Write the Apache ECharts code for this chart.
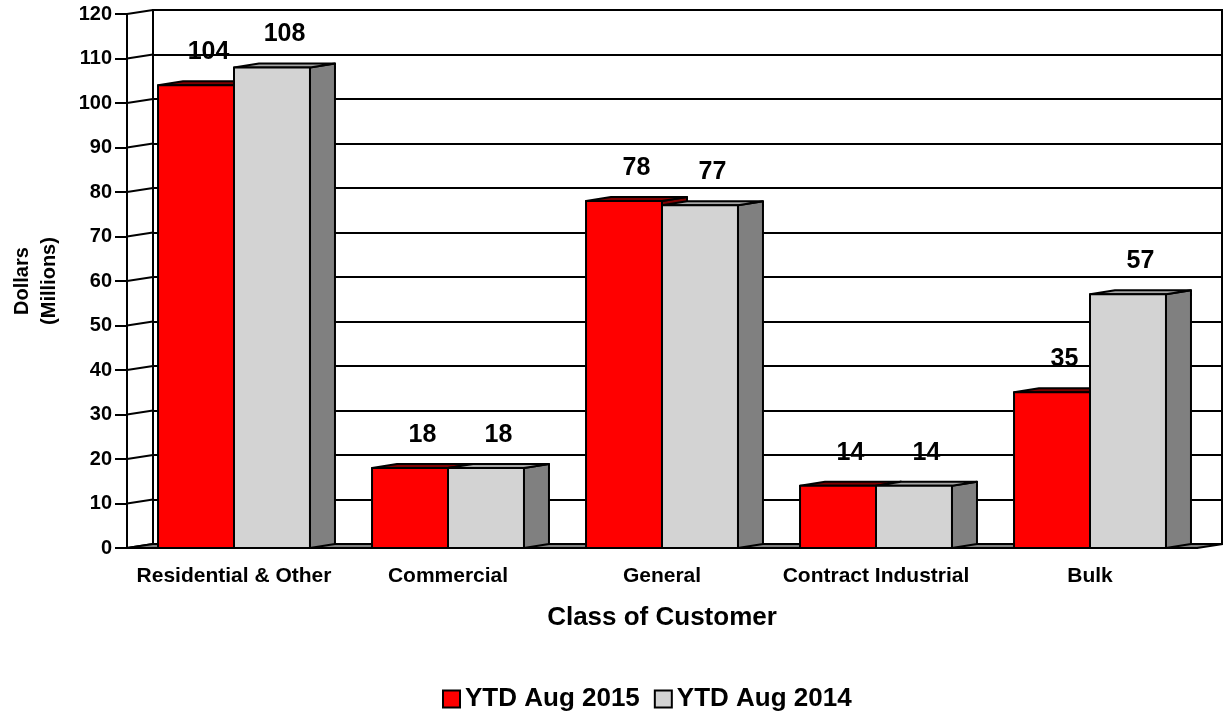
<!DOCTYPE html>
<html>
<head>
<meta charset="utf-8">
<script src="https://cdn.jsdelivr.net/npm/echarts@6/dist/echarts.min.js"></script>
<style>
  html, body { margin: 0; padding: 0; background: #fff; }
  #chart { width: 1223px; height: 715px; }
</style>
</head>
<body>
<div id="chart"></div>
<script>
const categories = ['Residential & Other', 'Commercial', 'General', 'Contract Industrial', 'Bulk']
const ytd2015 = [104, 18, 78, 14, 35]
const ytd2014 = [108, 18, 77, 14, 57]
const yTicks = [0, 10, 20, 30, 40, 50, 60, 70, 80, 90, 100, 110, 120]

const FONT = '"Liberation Sans", Arial, sans-serif'
// depth of the fake 3d (back wall offset)
const DX = 25
const DY = 4

function barItem(slot, front, top, side) {
    return function (params, api) {
        const ci = api.value(0)
        const v = api.value(1)
        const base = api.coord([ci, 0])
        const tp = api.coord([ci, v])
        const cw = api.size([1, 0])[0]
        const bw = cw * 0.355
        const x = base[0] - bw + slot * bw
        const ty = tp[1]
        const by = base[1]
        const line = { stroke: '#000', lineWidth: 2, lineJoin: 'round' }
        return {
            type: 'group',
            children: [
                {
                    type: 'polygon',
                    shape: { points: [[x + bw, ty], [x + bw + DX, ty - DY], [x + bw + DX, by - DY], [x + bw, by]] },
                    style: Object.assign({ fill: side }, line)
                },
                {
                    type: 'polygon',
                    shape: { points: [[x, ty], [x + DX, ty - DY], [x + bw + DX, ty - DY], [x + bw, ty]] },
                    style: Object.assign({ fill: top }, line)
                },
                {
                    type: 'rect',
                    shape: { x: x, y: ty, width: bw, height: by - ty },
                    style: Object.assign({ fill: front }, line)
                },
                {
                    type: 'text',
                    style: {
                        text: String(v),
                        x: x + bw / 2 + DX / 2,
                        y: ty - 33,
                        textAlign: 'center',
                        textVerticalAlign: 'middle',
                        font: 'bold 25px ' + FONT,
                        fill: '#000'
                    }
                }
            ]
        }
    }
}

function frameItem(params, api) {
    const v = api.value(1)
    const p = api.coord([0, v])
    const x0 = params.coordSys.x
    const w = params.coordSys.width
    const kids = [{
        type: 'line',
        shape: { x1: x0, y1: p[1], x2: x0 + DX + 1, y2: p[1] - DY },
        style: { stroke: '#000', lineWidth: 2 }
    }]
    if (v === 0) {
        kids.push({
            type: 'polygon',
            shape: { points: [[x0, p[1]], [x0 + w, p[1]], [x0 + w + DX + 1, p[1] - DY], [x0 + DX + 1, p[1] - DY]] },
            style: { fill: '#808080', stroke: '#000', lineWidth: 2 }
        })
    }
    return { type: 'group', children: kids }
}

const option = {
    animation: false,
    backgroundColor: '#fff',
    textStyle: { fontFamily: FONT },
    grid: [
        { left: 127, right: 26, top: 14, bottom: 167 },
        { left: 153, right: 1, top: 10, bottom: 171, show: true, borderColor: '#000', borderWidth: 2, backgroundColor: '#fff', z: -1 }
    ],
    xAxis: [
        {
            type: 'category',
            gridIndex: 0,
            data: categories,
            axisLine: { lineStyle: { color: '#000', width: 2 } },
            axisTick: { length: 8, lineStyle: { color: '#000', width: 2 } },
            axisLabel: { color: '#000', fontWeight: 'bold', fontSize: 21, margin: 18, interval: 0, fontFamily: FONT },
            name: 'Class of Customer',
            nameLocation: 'middle',
            nameGap: 57,
            nameTextStyle: { color: '#000', fontWeight: 'bold', fontSize: 26, fontFamily: FONT }
        },
        { type: 'value', gridIndex: 1, show: false, min: 0, max: 1 }
    ],
    yAxis: [
        {
            type: 'value',
            gridIndex: 0,
            min: 0,
            max: 120,
            interval: 10,
            axisLine: { show: true, lineStyle: { color: '#000', width: 2 } },
            axisTick: { show: true, length: 12, lineStyle: { color: '#000', width: 2 } },
            axisLabel: { color: '#000', fontWeight: 'bold', fontSize: 20, margin: 15, fontFamily: FONT },
            splitLine: { show: false },
            name: 'Dollars\n(Millions)',
            nameLocation: 'middle',
            nameGap: 64,
            nameTextStyle: { color: '#000', fontWeight: 'bold', fontSize: 20, lineHeight: 27, fontFamily: FONT }
        },
        {
            type: 'value',
            gridIndex: 1,
            min: 0,
            max: 120,
            interval: 10,
            axisLine: { show: true, lineStyle: { color: '#000', width: 2 } },
            axisTick: { show: false },
            axisLabel: { show: false },
            splitLine: { show: true, lineStyle: { color: '#000', width: 2 } },
            z: -1
        }
    ],
    legend: {
        left: 437,
        top: 681,
        itemWidth: 17,
        itemHeight: 17,
        itemGap: 14,
        icon: 'rect',
        textStyle: { color: '#000', fontWeight: 'bold', fontSize: 26, fontFamily: FONT },
        data: ['YTD Aug 2015', 'YTD Aug 2014']
    },
    series: [
        {
            name: 'frame',
            type: 'custom',
            xAxisIndex: 0,
            yAxisIndex: 0,
            renderItem: frameItem,
            data: yTicks.map(v => [0, v]),
            silent: true,
            z: 1
        },
        {
            name: 'YTD Aug 2015',
            type: 'custom',
            xAxisIndex: 0,
            yAxisIndex: 0,
            renderItem: barItem(0, '#ff0000', '#800000', '#800000'),
            itemStyle: { color: '#ff0000', borderColor: '#000', borderWidth: 2 },
            data: ytd2015.map((v, i) => [i, v]),
            z: 2
        },
        {
            name: 'YTD Aug 2014',
            type: 'custom',
            xAxisIndex: 0,
            yAxisIndex: 0,
            renderItem: barItem(1, '#d3d3d3', '#a6a6a6', '#808080'),
            itemStyle: { color: '#d3d3d3', borderColor: '#000', borderWidth: 2 },
            data: ytd2014.map((v, i) => [i, v]),
            z: 3
        }
    ]
}

const chart = echarts.init(document.getElementById('chart'))
chart.setOption(option)
</script>
</body>
</html>
